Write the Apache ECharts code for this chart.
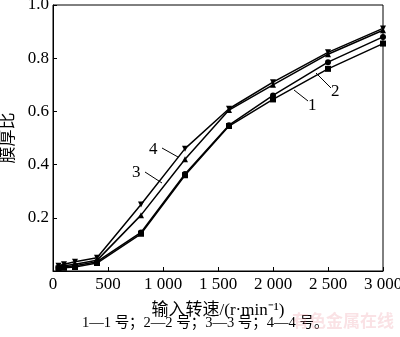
<!DOCTYPE html>
<html>
<head>
<meta charset="utf-8">
<script src="https://cdn.jsdelivr.net/npm/echarts@6/dist/echarts.min.js"></script>
<style>
  html, body { margin: 0; padding: 0; background: #fff; }
  #chart { width: 400px; height: 337px; }
</style>
</head>
<body>
<div id="chart"></div>
<script>
// 输入转速 (r/min)
var speeds = [50, 100, 200, 400, 800, 1200, 1600, 2000, 2500, 3000];
// 膜厚比, 1—4 号
var film1 = [0.010, 0.012, 0.015, 0.030, 0.140, 0.360, 0.545, 0.645, 0.760, 0.855];
var film2 = [0.012, 0.015, 0.020, 0.035, 0.145, 0.365, 0.548, 0.660, 0.785, 0.880];
var film3 = [0.015, 0.020, 0.025, 0.040, 0.210, 0.420, 0.605, 0.700, 0.815, 0.905];
var film4 = [0.020, 0.025, 0.035, 0.050, 0.250, 0.460, 0.610, 0.710, 0.822, 0.912];
var seriesNames = ['1', '2', '3', '4'];
var symbols = ['rect', 'circle', 'triangle', 'path://M0,0 L10,0 L5,9 Z'];

var serif = '"Liberation Serif", "Noto Sans CJK SC", serif';
var chart = echarts.init(document.getElementById('chart'));

function pairs(vals) {
  return speeds.map(function (s, i) { return [s, vals[i]]; });
}

var option = {
  backgroundColor: '#fff',
  animation: false,
  grid: {
    left: 53, right: 17, top: 5, bottom: 66,
    outerBoundsMode: 'none', containLabel: false,
    show: true, borderColor: '#000', borderWidth: 1
  },
  xAxis: {
    type: 'value', min: 0, max: 3000, interval: 500,
    name: '输入转速/(r·min⁻¹)',
    nameLocation: 'middle', nameGap: 31,
    nameTextStyle: { color: '#000', fontSize: 17, fontFamily: serif },
    axisLine: { lineStyle: { color: '#000', width: 1 } },
    axisTick: { inside: true, length: 4, lineStyle: { color: '#000' } },
    splitLine: { show: false },
    axisLabel: {
      color: '#000', fontSize: 17, fontFamily: serif, margin: 5,
      formatter: function (v) {
        return v >= 1000 ? String(v).replace(/(\d)(\d{3})$/, '$1 $2') : String(v);
      }
    }
  },
  yAxis: {
    type: 'value', min: 0, max: 1, interval: 0.2,
    name: '膜厚比',
    nameLocation: 'middle', nameGap: 33, nameRotate: 90,
    nameTextStyle: { color: '#000', fontSize: 17, fontFamily: serif },
    axisLine: { show: true, lineStyle: { color: '#000', width: 1 } },
    axisTick: { show: true, inside: true, length: 4, lineStyle: { color: '#000' } },
    splitLine: { show: false },
    axisLabel: {
      color: '#000', fontSize: 17, fontFamily: serif, margin: 4,
      formatter: function (v) { return v === 0 ? '' : v.toFixed(1); }
    }
  },
  series: [film1, film2, film3, film4].map(function (vals, i) {
    return {
      name: seriesNames[i],
      type: 'line',
      data: pairs(vals),
      symbol: symbols[i],
      symbolSize: 6,
      showAllSymbol: true,
      lineStyle: { color: '#000', width: 1.5 },
      itemStyle: { color: '#000' },
      z: 5 + i
    };
  }),
  graphic: [
    // callout labels
    { type: 'text', left: 149, top: 141, style: { text: '4', font: '17px ' + serif, fill: '#000' } },
    { type: 'line', shape: { x1: 162, y1: 148, x2: 178, y2: 157 }, style: { stroke: '#000', lineWidth: 1 } },
    { type: 'text', left: 132, top: 164, style: { text: '3', font: '17px ' + serif, fill: '#000' } },
    { type: 'line', shape: { x1: 145, y1: 172, x2: 162, y2: 183 }, style: { stroke: '#000', lineWidth: 1 } },
    { type: 'text', left: 308, top: 97, style: { text: '1', font: '17px ' + serif, fill: '#000' } },
    { type: 'line', shape: { x1: 294, y1: 90, x2: 308, y2: 101 }, style: { stroke: '#000', lineWidth: 1 } },
    { type: 'text', left: 331, top: 83, style: { text: '2', font: '17px ' + serif, fill: '#000' } },
    { type: 'line', shape: { x1: 316, y1: 73, x2: 331, y2: 88 }, style: { stroke: '#000', lineWidth: 1 } },
    // caption
    { type: 'text', left: 82, top: 316, style: { text: '1—1 号；2—2 号；3—3 号；4—4 号。', font: '14.5px ' + serif, fill: '#000' } },
    // watermark
    { type: 'text', left: 292, top: 312, style: { text: '有色金属在线', font: 'bold 17px "Noto Sans CJK SC", sans-serif', fill: 'rgba(235,140,150,0.25)' } }
  ]
};

chart.setOption(option);
</script>
</body>
</html>
